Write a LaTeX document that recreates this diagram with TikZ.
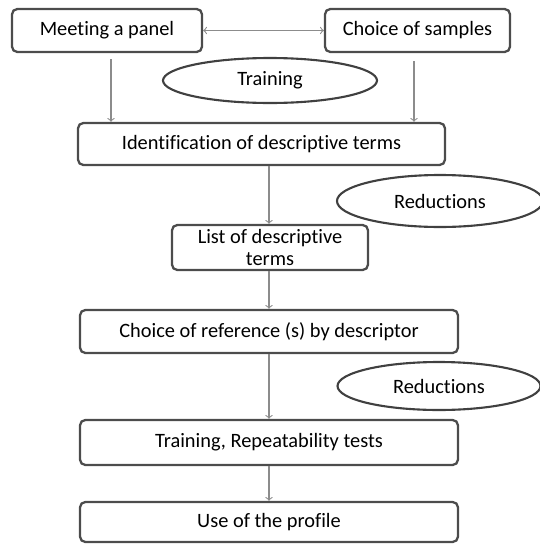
\documentclass[tikz,border=0pt]{standalone}
\usepackage{fontspec}
\setmainfont{Carlito}[Ligatures=NoCommon]
\usetikzlibrary{shapes.geometric}

\begin{document}
\begin{tikzpicture}[x=0.02cm, y=-0.02cm,
    box/.style={draw=black!70, line width=1.3pt, rounded corners=3pt, align=center, font=\fontsize{11.6}{12.4}\selectfont, inner sep=1pt},
    oval/.style={draw=black!75, line width=1.2pt, ellipse, font=\fontsize{11.6}{12.4}\selectfont, inner sep=0pt},
    arr/.style={->, draw=black!45, line width=0.6pt}]
    \useasboundingbox (0,0) rectangle (539,545);
    % nodes
    \node (panel) [box, minimum width=3.8cm, minimum height=0.86cm] at (107,30.5) {Meeting a panel};
    \node (samples) [box, minimum width=3.7cm, minimum height=0.86cm] at (417.5,30.5) {Choice of samples};
    \node (training) [oval, minimum width=4.28cm, minimum height=0.9cm] at (270,80.5) {Training};
    \node (ident) [box, minimum width=7.34cm, minimum height=0.84cm] at (261.5,144) {Identification of descriptive terms};
    \node (red1) [oval, minimum width=4.12cm, minimum height=1.04cm] at (440,201) {Reductions};
    \node (list) [box, minimum width=3.92cm, minimum height=0.9cm] at (270,247.5) {List of descriptive\\terms};
    \node (ref) [box, minimum width=7.56cm, minimum height=0.86cm] at (269,331.5) {Choice of reference (s) by descriptor};
    \node (red2) [oval, minimum width=4.06cm, minimum height=0.96cm] at (439,386) {Reductions};
    \node (rep) [box, minimum width=7.56cm, minimum height=0.9cm] at (269,442.5) {Training, Repeatability tests};
    \node (use) [box, minimum width=7.56cm, minimum height=0.8cm] at (269,522) {Use of the profile};
    % arrows
    \draw[arr, <->] (panel) -- (samples);
    \draw[arr] ([yshift=-0.12cm]panel.south -| 111,0) -- (ident.north -| 111,0);
    \draw[arr] ([yshift=-0.16cm]samples.south -| 414,0) -- (ident.north -| 414,0);
    \draw[arr] (ident.south -| 269,0) -- (list.north -| 269,0);
    \draw[arr] (list.south -| 269,0) -- (ref.north -| 269,0);
    \draw[arr] (ref) -- (rep);
    \draw[arr] (rep) -- (use);
\end{tikzpicture}
\end{document}
